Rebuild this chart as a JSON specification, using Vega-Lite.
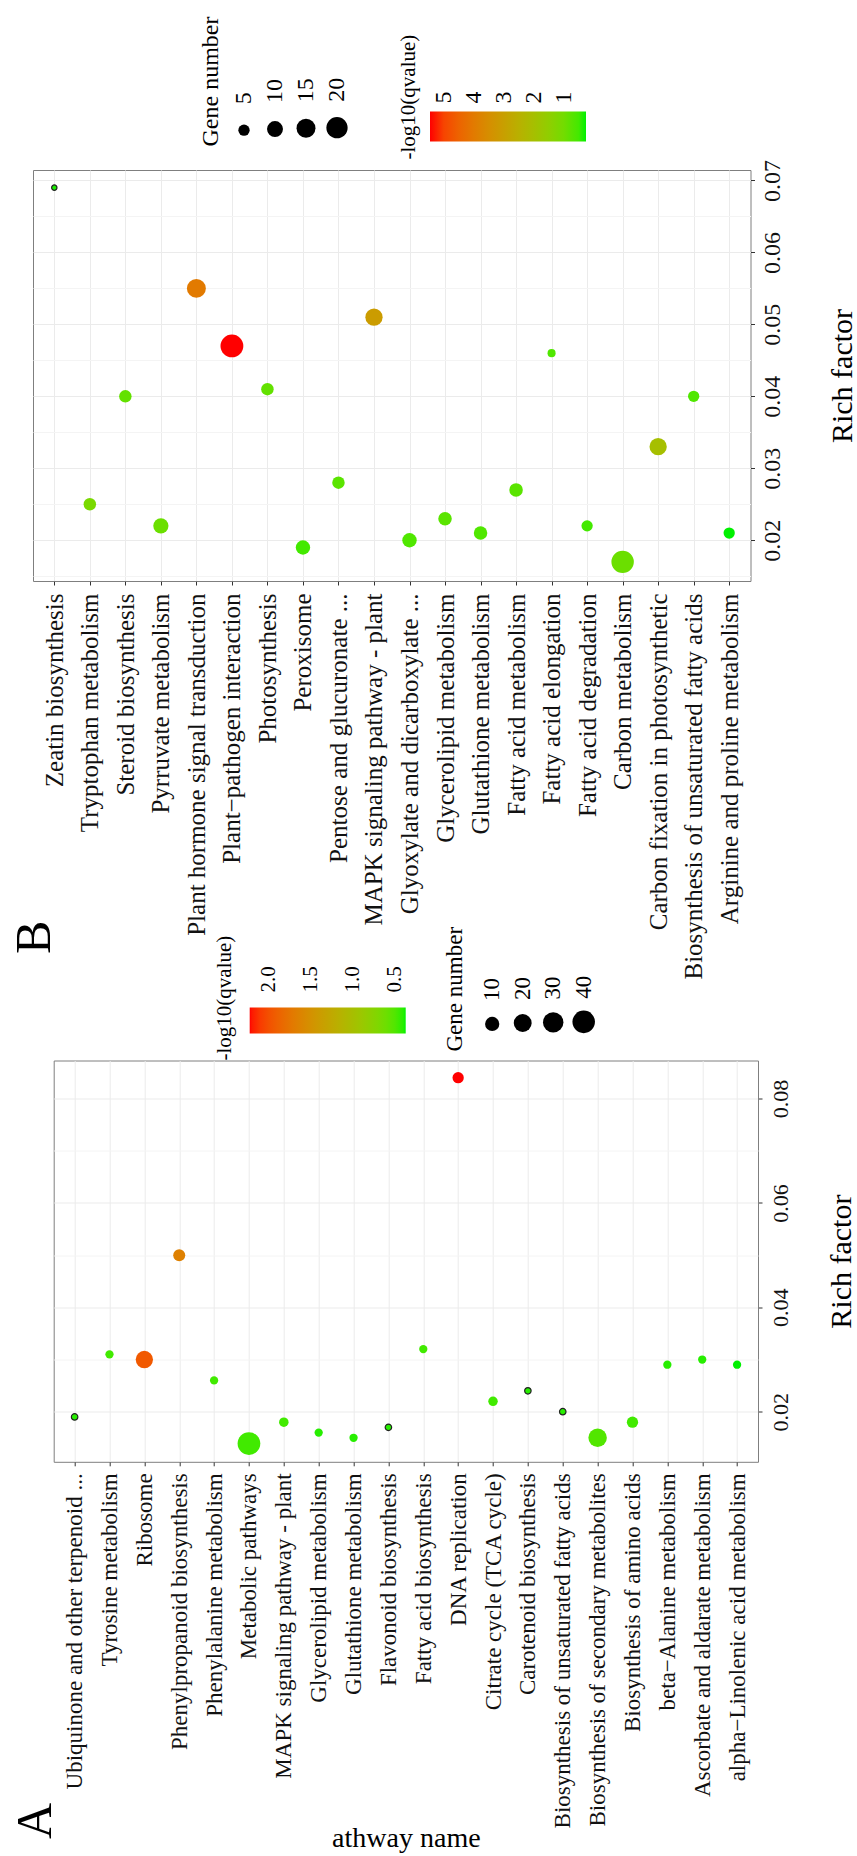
{
  "$schema": "https://vega.github.io/schema/vega-lite/v6.json",
  "background": "white",
  "padding": {"left": 8, "top": 77, "right": 0, "bottom": 0},
  "spacing": 479.5,
  "bounds": "flush",
  "datasets": {
    "B": [
      {"pathway": "Zeatin biosynthesis", "rich": 0.069, "gene": 2, "q": 0.3},
      {"pathway": "Tryptophan metabolism", "rich": 0.025, "gene": 6, "q": 1.1},
      {"pathway": "Steroid biosynthesis", "rich": 0.040, "gene": 6, "q": 0.8},
      {"pathway": "Pyrruvate metabolism", "rich": 0.022, "gene": 9, "q": 0.9},
      {"pathway": "Plant hormone signal transduction", "rich": 0.055, "gene": 15, "q": 4.0},
      {"pathway": "Plant−pathogen interaction", "rich": 0.047, "gene": 24, "q": 5.457},
      {"pathway": "Photosynthesis", "rich": 0.041, "gene": 6, "q": 0.8},
      {"pathway": "Peroxisome", "rich": 0.019, "gene": 8, "q": 0.5},
      {"pathway": "Pentose and glucuronate ...", "rich": 0.028, "gene": 6, "q": 0.7},
      {"pathway": "MAPK signaling pathway - plant", "rich": 0.051, "gene": 12, "q": 3.1},
      {"pathway": "Glyoxylate and dicarboxylate ...", "rich": 0.020, "gene": 8, "q": 0.6},
      {"pathway": "Glycerolipid metabolism", "rich": 0.023, "gene": 7, "q": 0.7},
      {"pathway": "Glutathione metabolism", "rich": 0.021, "gene": 7, "q": 0.6},
      {"pathway": "Fatty acid metabolism", "rich": 0.027, "gene": 7, "q": 0.7},
      {"pathway": "Fatty acid elongation", "rich": 0.046, "gene": 3, "q": 0.6},
      {"pathway": "Fatty acid degradation", "rich": 0.022, "gene": 5, "q": 0.5},
      {"pathway": "Carbon metabolism", "rich": 0.017, "gene": 23, "q": 0.9},
      {"pathway": "Carbon fixation in photosynthetic", "rich": 0.033, "gene": 12, "q": 2.0},
      {"pathway": "Biosynthesis of unsaturated fatty acids", "rich": 0.040, "gene": 5, "q": 0.6},
      {"pathway": "Arginine and proline metabolism", "rich": 0.021, "gene": 5, "q": 0.257}
    ],
    "A": [
      {"pathway": "Ubiquinone and other terpenoid ...", "rich": 0.019, "gene": 1, "q": 0.40},
      {"pathway": "Tyrosine metabolism", "rich": 0.031, "gene": 2, "q": 0.45},
      {"pathway": "Ribosome", "rich": 0.030, "gene": 18, "q": 1.95},
      {"pathway": "Phenylpropanoid biosynthesis", "rich": 0.050, "gene": 6, "q": 1.65},
      {"pathway": "Phenylalanine metabolism", "rich": 0.026, "gene": 2, "q": 0.45},
      {"pathway": "Metabolic pathways", "rich": 0.0139, "gene": 41, "q": 0.45},
      {"pathway": "MAPK signaling pathway - plant", "rich": 0.018, "gene": 3, "q": 0.45},
      {"pathway": "Glycerolipid metabolism", "rich": 0.016, "gene": 2, "q": 0.4},
      {"pathway": "Glutathione metabolism", "rich": 0.015, "gene": 2, "q": 0.4},
      {"pathway": "Flavonoid biosynthesis", "rich": 0.017, "gene": 1, "q": 0.4},
      {"pathway": "Fatty acid biosynthesis", "rich": 0.032, "gene": 2, "q": 0.45},
      {"pathway": "DNA replication", "rich": 0.084, "gene": 5, "q": 2.226},
      {"pathway": "Citrate cycle (TCA cycle)", "rich": 0.022, "gene": 3, "q": 0.45},
      {"pathway": "Carotenoid biosynthesis", "rich": 0.024, "gene": 1, "q": 0.4},
      {"pathway": "Biosynthesis of unsaturated fatty acids", "rich": 0.020, "gene": 1, "q": 0.4},
      {"pathway": "Biosynthesis of secondary metabolites", "rich": 0.015, "gene": 22, "q": 0.5},
      {"pathway": "Biosynthesis of amino acids", "rich": 0.018, "gene": 5, "q": 0.45},
      {"pathway": "beta−Alanine metabolism", "rich": 0.029, "gene": 2, "q": 0.4},
      {"pathway": "Ascorbate and aldarate metabolism", "rich": 0.030, "gene": 2, "q": 0.4},
      {"pathway": "alpha−Linolenic acid metabolism", "rich": 0.029, "gene": 2, "q": 0.369}
    ]
  },
  "config": {
    "view": {"stroke": "#7f7f7f", "strokeWidth": 1},
    "font": "Liberation Serif",
    "axis": {"labelFont": "Liberation Serif", "titleFont": "Liberation Serif", "labelColor": "#111111", "titleColor": "#000000", "titleFontWeight": "normal", "domain": false, "tickColor": "#333333", "tickSize": 4},
    "legend": {"labelFont": "Liberation Serif", "titleFont": "Liberation Serif", "labelColor": "#000000", "titleColor": "#000000", "titleFontWeight": "normal", "padding": 0, "offset": 0}
  },
  "resolve": {
    "scale": {"color": "independent", "size": "independent"},
    "legend": {"color": "independent", "size": "independent"}
  },
  "vconcat": [
    {
      "width": 717.5,
      "height": 411,
      "data": {"name": "B"},
      "resolve": {"axis": {"y": "independent"}},
      "layer": [
        {
          "mark": {"type": "circle", "opacity": 1, "stroke": "#222222"},
          "encoding": {
            "x": {
              "field": "pathway", "type": "nominal", "sort": null,
              "scale": {"type": "point", "padding": 0.6},
              "axis": {"title": null, "labelAngle": -90, "labelFontSize": 25, "labelLimit": 1000, "labelPadding": 8, "labelOverlap": false, "grid": true, "gridColor": "#ebebeb"}
            },
            "y": {
              "field": "rich", "type": "quantitative",
              "scale": {"domain": [0.01434, 0.07145], "nice": false, "zero": false},
              "axis": {
                "orient": "right", "title": "Rich factor", "titleAngle": -90, "titleBaseline": "top", "titleFontSize": 30, "titlePadding": 43,
                "values": [0.015, 0.02, 0.025, 0.03, 0.035, 0.04, 0.045, 0.05, 0.055, 0.06, 0.065, 0.07],
                "labelExpr": "abs(datum.value*100 - round(datum.value*100)) < 0.01 ? format(datum.value, '.2f') : ''",
                "labelAngle": -90, "labelAlign": "center", "labelBaseline": "top", "labelFontSize": 24, "labelPadding": 6,
                "tickOpacity": {"condition": {"test": "abs(datum.value*100 - round(datum.value*100)) < 0.01", "value": 1}, "value": 0},
                "grid": true,
                "gridColor": {"condition": {"test": "abs(datum.value*100 - round(datum.value*100)) < 0.01", "value": "#ebebeb"}, "value": "#f4f4f4"}
              }
            },
            "size": {
              "field": "gene", "type": "quantitative",
              "scale": {"type": "pow", "exponent": 0.65, "domain": [2, 24], "range": [28.3, 520.8], "zero": false, "nice": false},
              "legend": {
                "title": "Gene number", "orient": "none", "legendX": 166, "legendY": -92.5, "direction": "horizontal",
                "values": [5, 10, 15, 20], "titleOrient": "left", "titleAnchor": "end", "titlePadding": 8, "titleFontSize": 24,
                "labelFontSize": 24, "columnPadding": 7, "gridAlign": "all",
                "labelExpr": "datum.value < 10 ? datum.label + '  ' : datum.label",
                "encoding": {
                  "title": {"angle": {"value": -90}, "align": {"value": "left"}, "baseline": {"value": "top"}, "dx": {"value": -8}},
                  "symbols": {"x": {"value": 12}, "y": {"value": 50}, "fill": {"value": "#000000"}, "strokeWidth": {"value": 0}, "opacity": {"value": 1}},
                  "labels": {"x": {"value": 12}, "y": {"value": 24}, "angle": {"value": -90}, "align": {"value": "left"}, "baseline": {"value": "middle"}}
                }
              }
            },
            "color": {
              "field": "q", "type": "quantitative",
              "scale": {"domain": [5.457, 0.257], "range": ["#ff0000", "#00f000"], "interpolate": "lab", "nice": false, "zero": false},
              "legend": {
                "title": "-log10(qvalue)", "orient": "none", "legendX": 365, "legendY": -58.5, "direction": "horizontal",
                "gradientLength": 156, "gradientThickness": 30, "gradientStrokeWidth": 0,
                "values": [5, 4, 3, 2, 1], "labelOverlap": false, "titleOrient": "left", "titleAnchor": "end", "titlePadding": 10,
                "titleFontSize": 21, "labelFontSize": 24,
                "encoding": {
                  "title": {"angle": {"value": -90}, "align": {"value": "left"}, "baseline": {"value": "top"}, "dx": {"value": -18}},
                  "labels": {"y": {"value": -8}, "angle": {"value": -90}, "align": {"value": "left"}, "baseline": {"value": "middle"}}
                }
              }
            },
            "strokeWidth": {"condition": {"test": "datum.gene <= 2", "value": 1.2}, "value": 0}
          }
        },
        {
          "mark": {"type": "point", "opacity": 0},
          "encoding": {
            "y": {
              "field": "rich", "type": "quantitative",
              "axis": {"orient": "left", "title": "B", "labels": false, "ticks": false, "grid": false, "domain": false,
                       "titleX": 16, "titleY": 783.5, "titleAngle": -90, "titleAlign": "left", "titleBaseline": "alphabetic",
                       "titleFontSize": 50, "titleFontWeight": "normal"}
            }
          }
        }
      ]
    },
    {
      "bounds": "flush",
      "spacing": 19.7,
      "resolve": {
        "scale": {"color": "independent", "size": "independent"},
        "legend": {"color": "independent", "size": "independent"}
      },
      "hconcat": [
        {
          "width": 1,
          "height": 401.3,
          "view": {"stroke": null},
          "data": {"values": []},
          "mark": {"type": "point", "opacity": 0},
          "encoding": {}
        },
        {
          "width": 704.3,
          "height": 401.3,
          "data": {"name": "A"},
          "resolve": {"axis": {"y": "independent"}},
          "layer": [
            {
              "mark": {"type": "circle", "opacity": 1, "stroke": "#222222"},
              "encoding": {
                "x": {
                  "field": "pathway", "type": "nominal", "sort": null,
                  "scale": {"type": "point", "padding": 0.6},
                  "axis": {"title": "athway name", "titleFontSize": 28, "titleBaseline": "alphabetic", "titleY": 385, "labelAngle": -90, "labelFontSize": 23, "labelLimit": 1000, "labelPadding": 7, "labelOverlap": false, "grid": true, "gridColor": "#ebebeb"}
                },
                "y": {
                  "field": "rich", "type": "quantitative",
                  "scale": {"domain": [0.0104, 0.0873], "nice": false, "zero": false},
                  "axis": {
                    "orient": "right", "title": "Rich factor", "titleAngle": -90, "titleBaseline": "top", "titleFontSize": 30, "titlePadding": 35,
                    "values": [0.02, 0.03, 0.04, 0.05, 0.06, 0.07, 0.08],
                    "labelExpr": "abs(datum.value*50 - round(datum.value*50)) < 0.01 ? format(datum.value, '.2f') : ''",
                    "labelAngle": -90, "labelAlign": "center", "labelBaseline": "top", "labelFontSize": 22, "labelPadding": 8.5,
                    "tickOpacity": {"condition": {"test": "abs(datum.value*50 - round(datum.value*50)) < 0.01", "value": 1}, "value": 0},
                    "grid": true,
                    "gridColor": {"condition": {"test": "abs(datum.value*50 - round(datum.value*50)) < 0.01", "value": "#ebebeb"}, "value": "#f4f4f4"}
                  }
                },
                "size": {
                  "field": "gene", "type": "quantitative",
                  "scale": {"type": "pow", "exponent": 0.65, "domain": [1, 41], "range": [41.9, 515], "zero": false, "nice": false},
                  "legend": {
                    "title": "Gene number", "orient": "none", "legendX": 390, "legendY": -85, "direction": "horizontal",
                    "values": [10, 20, 30, 40], "titleOrient": "left", "titleAnchor": "end", "titlePadding": 11.5, "titleFontSize": 23,
                    "labelFontSize": 23, "columnPadding": 5.5, "gridAlign": "all",
                    "encoding": {
                      "title": {"angle": {"value": -90}, "align": {"value": "left"}, "baseline": {"value": "top"}, "dx": {"value": -18}},
                      "symbols": {"x": {"value": 13}, "y": {"value": 46}, "fill": {"value": "#000000"}, "strokeWidth": {"value": 0}, "opacity": {"value": 1}},
                      "labels": {"x": {"value": 13}, "y": {"value": 23}, "angle": {"value": -90}, "align": {"value": "left"}, "baseline": {"value": "middle"}}
                    }
                  }
                },
                "color": {
                  "field": "q", "type": "quantitative",
                  "scale": {"domain": [2.226, 0.369], "range": ["#ff0000", "#00f000"], "interpolate": "lab", "nice": false, "zero": false},
                  "legend": {
                    "title": "-log10(qvalue)", "orient": "none", "legendX": 160, "legendY": -53, "direction": "horizontal",
                    "gradientLength": 156, "gradientThickness": 26, "gradientStrokeWidth": 0,
                    "values": [2.0, 1.5, 1.0, 0.5], "format": ".1f", "labelOverlap": false, "titleOrient": "left", "titleAnchor": "end", "titlePadding": 14,
                    "titleFontSize": 21, "labelFontSize": 21,
                    "encoding": {
                      "title": {"angle": {"value": -90}, "align": {"value": "left"}, "baseline": {"value": "top"}, "dx": {"value": -27}},
                      "labels": {"y": {"value": -15}, "angle": {"value": -90}, "align": {"value": "left"}, "baseline": {"value": "middle"}}
                    }
                  }
                },
                "strokeWidth": {"condition": {"test": "datum.gene <= 1", "value": 1.2}, "value": 0}
              }
            },
            {
              "mark": {"type": "point", "opacity": 0},
              "encoding": {
                "y": {
                  "field": "rich", "type": "quantitative",
                  "axis": {"orient": "left", "title": "A", "labels": false, "ticks": false, "grid": false, "domain": false,
                           "titleX": -3.7, "titleY": 778, "titleAngle": -90, "titleAlign": "left", "titleBaseline": "alphabetic",
                           "titleFontSize": 50, "titleFontWeight": "normal"}
                }
              }
            }
          ]
        }
      ]
    }
  ]
}
